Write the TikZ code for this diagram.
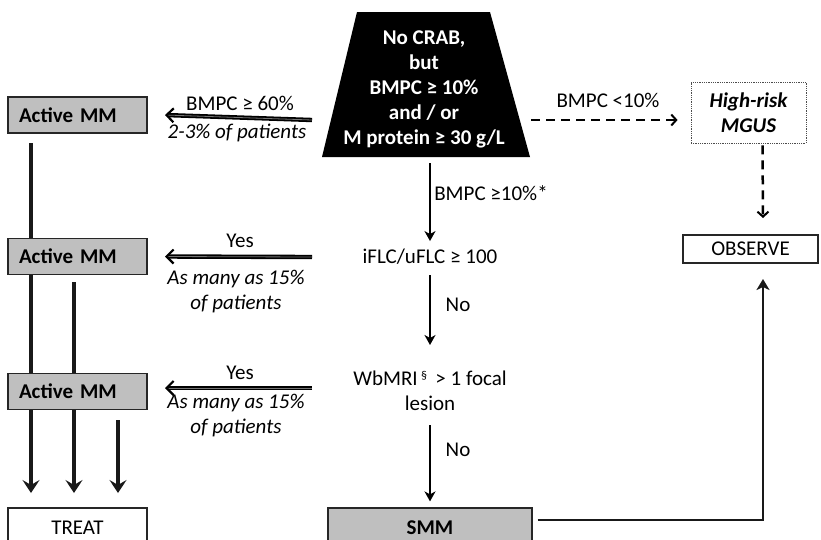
\documentclass[tikz,border=0pt]{standalone}
\usepackage{fontspec}
\setmainfont{Carlito}
\usetikzlibrary{arrows.meta,calc}
\begin{document}
\begin{tikzpicture}[x=1pt,y=-1pt,
  every node/.style={font=\fontsize{21}{25}\selectfont, inner sep=2pt},
  mmbox/.style={draw=black!85, line width=1.2pt, fill=black!25, minimum width=139pt, minimum height=36pt, inner sep=0pt, text width=117pt, align=left, font=\fontsize{21}{25}\selectfont\bfseries},
  wbox/.style={draw=black!85, line width=1.2pt, fill=white, minimum height=30pt, inner sep=0pt},
  lbl/.style={font=\fontsize{21}{25}\selectfont},
  ital/.style={font=\fontsize{21}{25}\selectfont\itshape, align=center},
  dblarrow/.style={draw=black, double=black!55, double distance=0.8pt, line width=1.8pt, -{Straight Barb[length=7pt,width=14pt,line width=2.2pt]}},
  midarrow/.style={draw=black, line width=2pt, -{Stealth[length=10pt,width=11pt,inset=3pt]}},
  thickline/.style={draw=black!90, line width=3.5pt},
  thickarrow/.style={draw=black!90, line width=3.5pt, -{Stealth[length=13pt,width=17pt,inset=5pt]}},
  dasharrow/.style={draw=black, line width=2.5pt, dash pattern=on 9pt off 6pt, -{Straight Barb[length=5pt,width=11pt,line width=2pt]}}
]
\clip (0,0) rectangle (821,539);
\fill[white] (0,0) rectangle (821,539);

% trapezoid
\fill[black] (357,12) -- (490,12) -- (530,157) -- (322,157) -- cycle;
\node[align=center, text=white, font=\fontsize{21}{25}\selectfont\bfseries] (crab) at (424,89)
  {No CRAB,\\but\\BMPC ≥ 10\%\\and / or\\M protein ≥ 30 g/L};
\coordinate (crabL) at (312,120);
\coordinate (crabR) at (531,120);
\coordinate (crabB) at (430,163);

% boxes
\node[mmbox] (mm1) at (77.5,115) {Active MM};
\node[mmbox] (mm2) at (77.5,256.5) {Active MM};
\node[mmbox] (mm3) at (77.5,391.5) {Active MM};
\node[wbox, minimum width=139pt, minimum height=40pt, font=\fontsize{21}{25}\selectfont] (treat) at (77.5,528) {TREAT};
\node[wbox, fill=black!25, minimum width=204pt, minimum height=40pt, font=\fontsize{21}{25}\selectfont\bfseries] (smm) at (430,528) {SMM};
\node[wbox, minimum width=135pt, minimum height=28pt, font=\fontsize{21}{25}\selectfont] (obs) at (750.5,249) {OBSERVE};
\node[draw=black!70, densely dotted, line width=0.8pt, minimum width=115pt, minimum height=61pt, align=center, font=\fontsize{21}{25}\selectfont\bfseries\itshape] (mgus) at (748.5,112.5) {High-risk\\MGUS};

% middle texts
\node[lbl] (iflc) at (430,257) {iFLC/uFLC ≥ 100};
\node[lbl, align=center] (wb) at (430,391) {WbMRI\,\raisebox{0.6ex}{\fontsize{12}{12}\selectfont §}\, > 1 focal\\lesion};
\coordinate (iflcL) at (312,257);
\coordinate (wbL) at (312,388);

% labels
\node[lbl] (l60) at (240,103) {BMPC ≥ 60\%};
\node[ital] (l23) at (237,133) {2-3\% of patients};
\node[lbl] (y1) at (240,241) {Yes};
\node[ital] (p1) at (236,292) {As many as 15\%\\of patients};
\node[lbl] (y2) at (240,373) {Yes};
\node[ital] (p2) at (236,416) {As many as 15\%\\of patients};
\node[lbl] (l10) at (608,100) {BMPC <10\%};
\node[lbl] (l10s) at (491,193) {BMPC ≥10\%*};
\node[lbl] (no1) at (458,305) {No};
\node[lbl] (no2) at (458,450) {No};

% horizontal arrows to Active MM
\draw[dblarrow] (crabL) -- (mm1.east -| 165,0);
\draw[dblarrow] (iflcL) -- (mm2.east -| 165,0);
\draw[dblarrow] (wbL) -- (165,388);

% dashed arrows
\draw[dasharrow, shorten >=13pt] (crabR) -- (mgus.west |- crabR);
\draw[dasharrow] ($(mgus.south)+(14,2)$) -- (763,218);

% middle column
\draw[midarrow, shorten >=6pt] (crabB) -- (iflc.north -| crabB);
\draw[midarrow, shorten >=6pt] (430,275) -- (430,351);
\draw[midarrow, shorten >=6pt] (430,425) -- (smm.north);

% SMM to observe
\draw[draw=black!90, line width=2.5pt, -{Stealth[length=11pt,width=13pt,inset=3pt]}] ($(smm.east |- 0,520)+(5,0)$) -| (763,279);

% left verticals
\draw[thickline] (31,143) -- (mm2.north -| 31,0);
\draw[thickline] (mm2.south -| 31,0) -- (mm3.north -| 31,0);
\draw[thickarrow] (mm3.south -| 31,0) -- (31,493);
\draw[thickline] (74,282) -- (mm3.north -| 74,0);
\draw[thickarrow] (mm3.south -| 74,0) -- (74,493);
\draw[thickarrow] (118,420) -- (118,493);
\end{tikzpicture}
\end{document}
